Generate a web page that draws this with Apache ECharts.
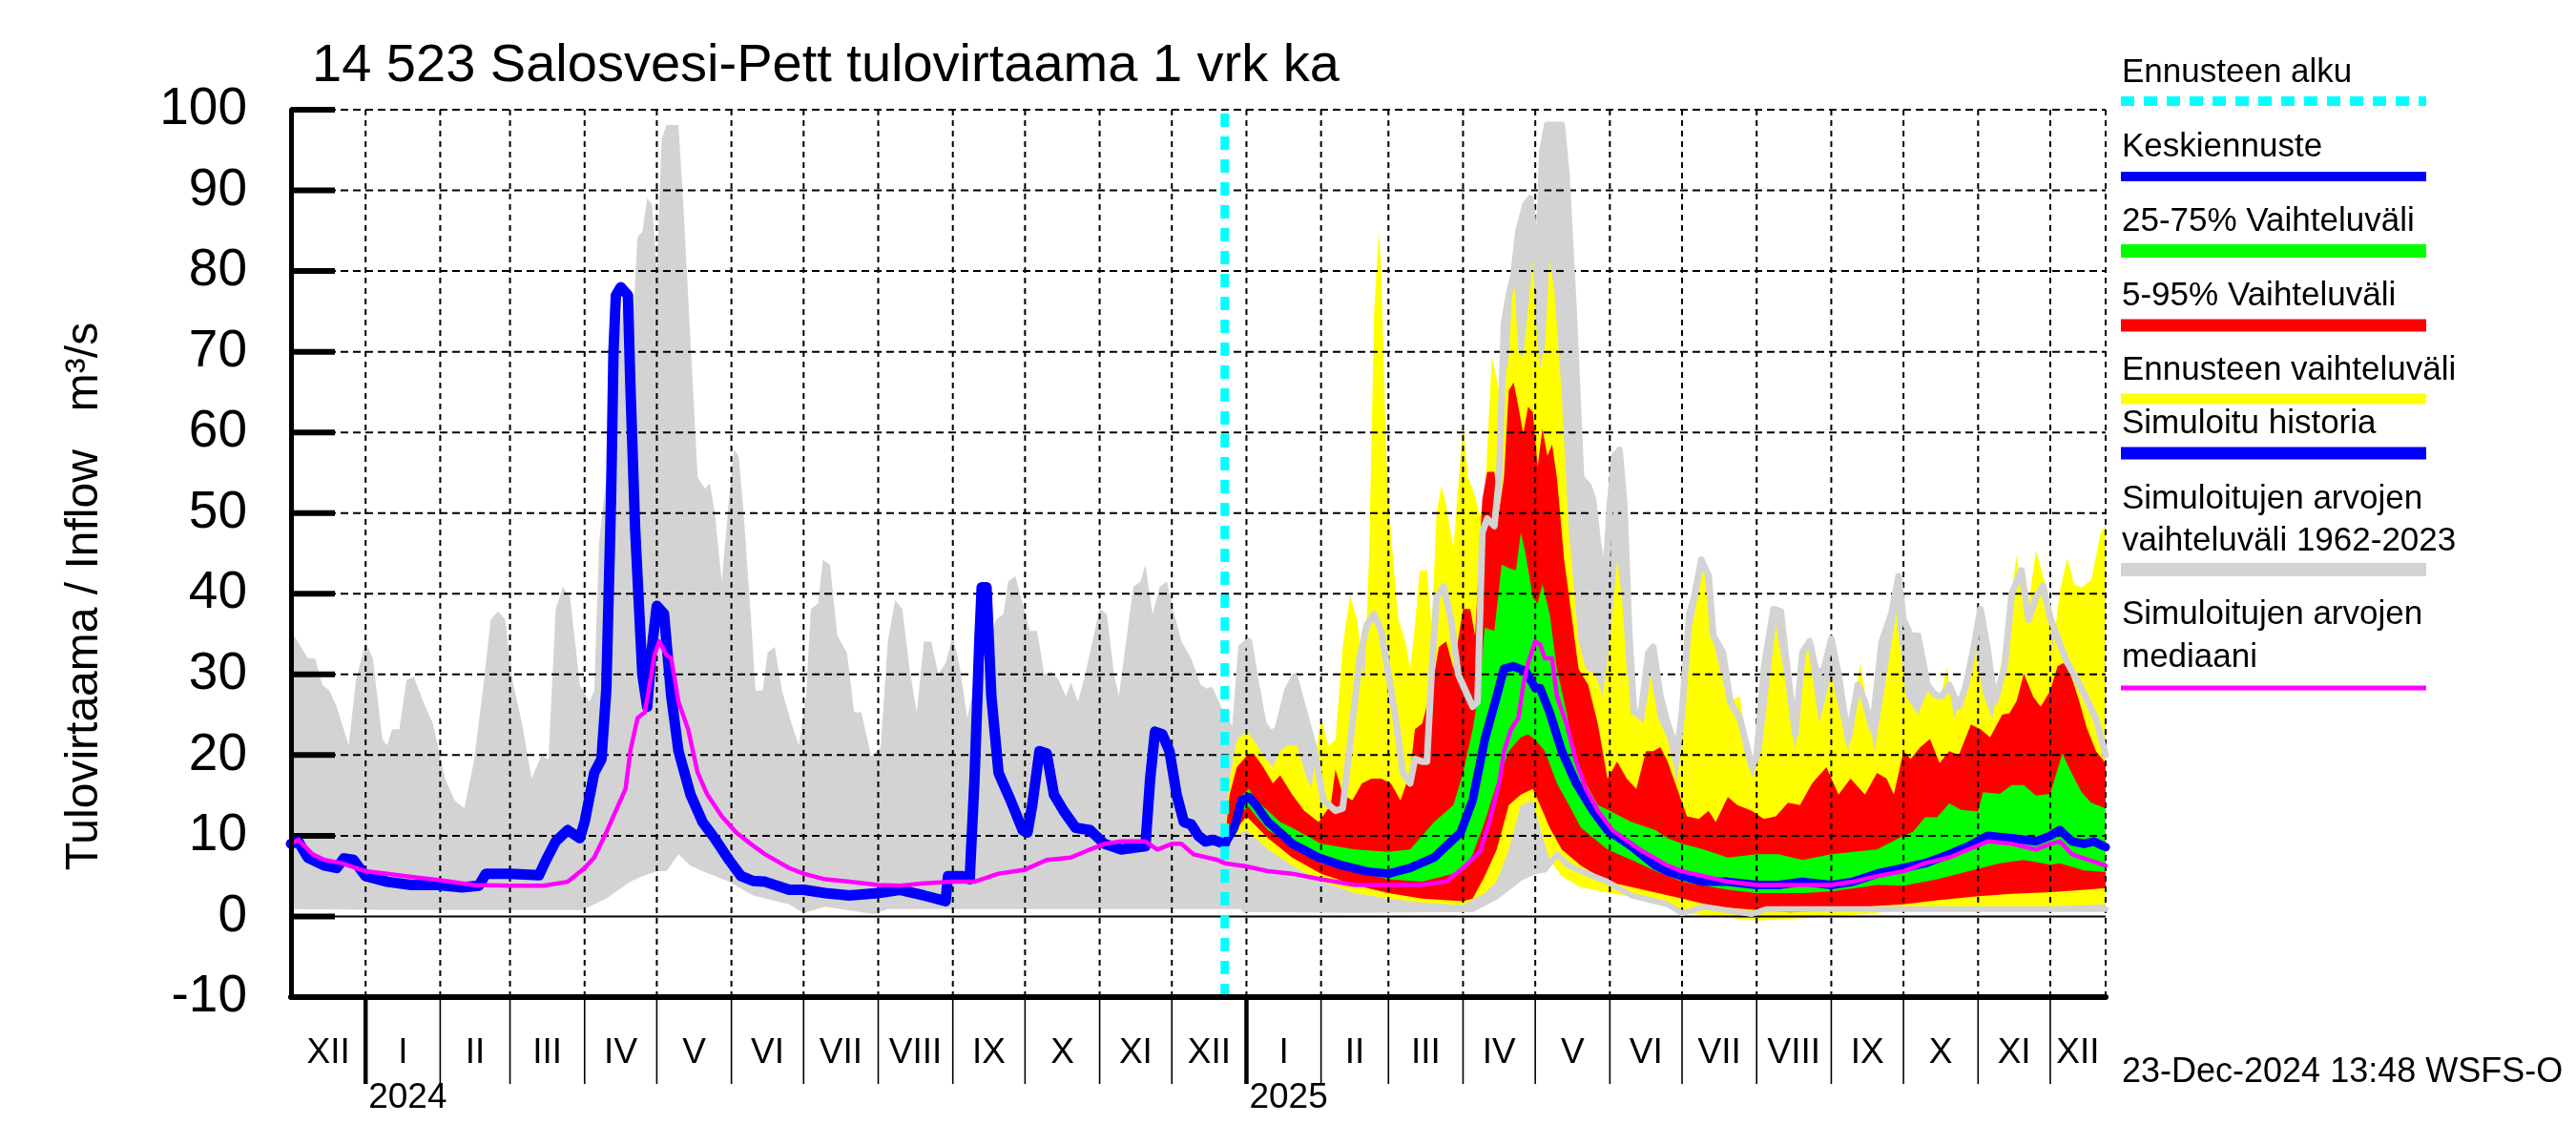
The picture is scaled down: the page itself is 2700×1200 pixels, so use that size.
<!DOCTYPE html>
<html>
<head>
<meta charset="utf-8">
<script src="https://cdn.jsdelivr.net/npm/echarts@6/dist/echarts.min.js"></script>
<style>html,body{margin:0;padding:0;background:#fff}#c{width:2700px;height:1200px}</style>
</head>
<body>
<div id="c"></div>
<script>
// ---------------- DATA ----------------
const titleText = '14 523 Salosvesi-Pett tulovirtaama 1 vrk ka';
const yAxisTitle = 'Tulovirtaama / Inflow   m\u00b3/s';
const footerText = '23-Dec-2024 13:48 WSFS-O';
const xStart = '2023-12-01';
const xEnd = '2025-12-24';
const forecastStart = '2024-12-23';
const yTicks = [0,10,20,30,40,50,60,70,80,90,100];
const monthStarts = ['2023-12-01','2024-01-01','2024-02-01','2024-03-01','2024-04-01','2024-05-01','2024-06-01','2024-07-01','2024-08-01','2024-09-01','2024-10-01','2024-11-01','2024-12-01','2025-01-01','2025-02-01','2025-03-01','2025-04-01','2025-05-01','2025-06-01','2025-07-01','2025-08-01','2025-09-01','2025-10-01','2025-11-01','2025-12-01'];
const monthLabels = ['XII','I','II','III','IV','V','VI','VII','VIII','IX','X','XI','XII','I','II','III','IV','V','VI','VII','VIII','IX','X','XI','XII'];
const yearLabels = {'2024-01-01':'2024','2025-01-01':'2025'};

// Simulated history (blue)
const historySim = [['2023-12-01',9.0],['2023-12-04',9.3],['2023-12-08',7.3],['2023-12-15',6.3],['2023-12-20',6.0],['2023-12-23',7.2],['2023-12-27',7.0],['2024-01-01',5.0],['2024-01-10',4.3],['2024-01-20',3.9],['2024-01-31',3.9],['2024-02-10',3.6],['2024-02-17',3.8],['2024-02-20',5.3],['2024-03-01',5.3],['2024-03-13',5.1],['2024-03-16',7.0],['2024-03-20',9.3],['2024-03-25',10.7],['2024-03-30',9.7],['2024-04-01',11.7],['2024-04-05',17.8],['2024-04-08',19.5],['2024-04-10',28],['2024-04-12',52],['2024-04-13',70],['2024-04-14',77],['2024-04-16',78],['2024-04-19',77],['2024-04-20',66],['2024-04-22',48],['2024-04-25',30],['2024-04-27',26],['2024-04-29',33.4],['2024-05-01',38.5],['2024-05-04',37.5],['2024-05-07',27.3],['2024-05-10',20.5],['2024-05-15',15.1],['2024-05-20',11.7],['2024-05-25',9.7],['2024-05-31',7],['2024-06-05',5.0],['2024-06-10',4.4],['2024-06-15',4.3],['2024-06-25',3.3],['2024-07-01',3.3],['2024-07-10',2.9],['2024-07-20',2.6],['2024-08-01',2.9],['2024-08-10',3.3],['2024-08-20',2.6],['2024-08-29',1.9],['2024-08-30',5.0],['2024-09-05',5.0],['2024-09-08',4.6],['2024-09-10',17],['2024-09-12',34],['2024-09-13',40.8],['2024-09-15',40.8],['2024-09-17',27.3],['2024-09-20',17.8],['2024-09-25',14.4],['2024-09-30',10.7],['2024-10-02',10.4],['2024-10-04',13.8],['2024-10-07',20.5],['2024-10-10',20.2],['2024-10-13',15.1],['2024-10-17',13.1],['2024-10-22',11],['2024-10-28',10.7],['2024-11-03',9],['2024-11-10',8.3],['2024-11-20',8.7],['2024-11-22',17.1],['2024-11-24',22.9],['2024-11-27',22.6],['2024-11-30',20.5],['2024-12-03',15.1],['2024-12-06',11.7],['2024-12-09',11.4],['2024-12-12',10],['2024-12-15',9.3],['2024-12-18',9.5],['2024-12-23',9.0]];

// Forecast mean (blue)
const forecastMean = [['2024-12-23',9.0],['2024-12-27',11],['2024-12-30',14.4],['2025-01-02',14.8],['2025-01-05',13.8],['2025-01-10',11.7],['2025-01-15',10.4],['2025-01-20',9],['2025-01-31',7.3],['2025-02-10',6.3],['2025-02-20',5.6],['2025-03-01',5.3],['2025-03-10',6],['2025-03-20',7.3],['2025-03-31',10.4],['2025-04-05',14.4],['2025-04-10',21.9],['2025-04-15',27.3],['2025-04-18',30.7],['2025-04-22',31],['2025-04-27',30.4],['2025-05-01',28.3],['2025-05-03',28.3],['2025-05-07',25.3],['2025-05-12',20.5],['2025-05-18',16.5],['2025-05-25',13.1],['2025-05-31',10.7],['2025-06-10',8.7],['2025-06-20',6.3],['2025-06-25',5.6],['2025-07-01',5.0],['2025-07-10',4.3],['2025-07-20',4.3],['2025-08-01',3.9],['2025-08-10',3.9],['2025-08-20',4.3],['2025-09-01',3.9],['2025-09-10',4.3],['2025-09-20',5.3],['2025-10-01',6],['2025-10-10',6.6],['2025-10-20',7.7],['2025-10-28',8.7],['2025-11-05',10],['2025-11-15',9.7],['2025-11-25',9.3],['2025-12-01',10],['2025-12-05',10.7],['2025-12-10',9.3],['2025-12-15',9],['2025-12-19',9.3],['2025-12-24',8.6]];

// Median of simulated values (magenta)
const medianSim = [['2023-12-01',9.0],['2023-12-04',9.5],['2023-12-10',7.7],['2023-12-15',7.0],['2023-12-22',6.6],['2024-01-01',5.6],['2024-01-10',5.3],['2024-01-20',4.9],['2024-02-01',4.5],['2024-02-15',3.9],['2024-03-01',3.8],['2024-03-15',3.8],['2024-03-25',4.3],['2024-04-01',6],['2024-04-05',7.3],['2024-04-10',10.4],['2024-04-15',13.8],['2024-04-18',15.8],['2024-04-20',20.5],['2024-04-23',24.6],['2024-04-26',25.3],['2024-04-28',28.7],['2024-04-30',32.4],['2024-05-02',34.1],['2024-05-05',32.4],['2024-05-07',32],['2024-05-10',26.6],['2024-05-14',23.2],['2024-05-18',17.8],['2024-05-22',15.1],['2024-05-28',12.4],['2024-06-03',10.4],['2024-06-09',9],['2024-06-15',7.7],['2024-06-25',6],['2024-07-01',5.3],['2024-07-10',4.6],['2024-07-20',4.3],['2024-08-01',3.9],['2024-08-10',3.8],['2024-08-20',4.1],['2024-09-01',4.3],['2024-09-10',4.3],['2024-09-20',5.3],['2024-10-01',5.8],['2024-10-10',7],['2024-10-20',7.3],['2024-10-28',8.3],['2024-11-03',9],['2024-11-10',9.3],['2024-11-20',9.3],['2024-11-25',8.3],['2024-12-01',9],['2024-12-05',9],['2024-12-10',7.7],['2024-12-20',7],['2024-12-23',6.6],['2025-01-01',6.2],['2025-01-10',5.6],['2025-01-20',5.3],['2025-02-01',4.6],['2025-02-15',3.9],['2025-03-01',3.9],['2025-03-15',3.9],['2025-03-25',4.3],['2025-04-01',6],['2025-04-08',8],['2025-04-12',11.7],['2025-04-16',16.5],['2025-04-18',20.5],['2025-04-21',23.2],['2025-04-24',24.6],['2025-04-26',28.7],['2025-04-28',31.4],['2025-05-01',34.1],['2025-05-03',33.7],['2025-05-05',32],['2025-05-08',32],['2025-05-10',27.3],['2025-05-14',23.9],['2025-05-18',19.2],['2025-05-22',15.8],['2025-05-27',13.1],['2025-06-02',10.7],['2025-06-10',9],['2025-06-15',8],['2025-06-25',6.3],['2025-07-01',5.6],['2025-07-10',5],['2025-07-20',4.3],['2025-08-01',3.9],['2025-08-20',3.9],['2025-09-01',3.9],['2025-09-10',4.3],['2025-09-20',5],['2025-10-01',5.6],['2025-10-10',6.6],['2025-10-20',7.3],['2025-10-28',8.3],['2025-11-05',9.3],['2025-11-15',9],['2025-11-25',8.3],['2025-12-01',9],['2025-12-05',9.3],['2025-12-10',7.7],['2025-12-19',6.8],['2025-12-24',6.3]];

// Range of simulated values 1962-2023 (grey)
const simRangeMax = [['2023-12-01',35.4],['2023-12-04',34],['2023-12-08',32],['2023-12-11',32],['2023-12-14',28.7],['2023-12-17',28],['2023-12-20',26],['2023-12-25',21.2],['2023-12-28',29.3],['2024-01-01',34],['2024-01-04',32],['2024-01-08',21.9],['2024-01-10',21.2],['2024-01-12',23.2],['2024-01-15',23.2],['2024-01-18',29.3],['2024-01-21',29.7],['2024-01-25',26.6],['2024-01-29',23.9],['2024-02-03',17.1],['2024-02-07',14.4],['2024-02-11',13.4],['2024-02-15',19.2],['2024-02-19',28.7],['2024-02-22',36.8],['2024-02-25',37.8],['2024-02-28',36.8],['2024-03-02',29.3],['2024-03-06',23.9],['2024-03-10',17.1],['2024-03-14',19.9],['2024-03-17',19.5],['2024-03-20',38.1],['2024-03-23',40.9],['2024-03-26',39.5],['2024-03-30',28.7],['2024-04-03',26.6],['2024-04-05',28],['2024-04-07',46.3],['2024-04-10',54.4],['2024-04-13',61.2],['2024-04-15',71.3],['2024-04-17',76.1],['2024-04-19',76.8],['2024-04-21',73.4],['2024-04-23',84.2],['2024-04-25',84.9],['2024-04-27',89],['2024-04-29',88.3],['2024-05-01',80.1],['2024-05-03',96.4],['2024-05-05',98.1],['2024-05-10',98.1],['2024-05-12',88.3],['2024-05-15',71.3],['2024-05-18',54.4],['2024-05-21',53],['2024-05-23',53.7],['2024-05-25',50.3],['2024-05-28',41.5],['2024-05-31',51.7],['2024-06-02',57.8],['2024-06-04',57.1],['2024-06-06',50.3],['2024-06-09',37.5],['2024-06-11',28],['2024-06-14',28],['2024-06-16',32.7],['2024-06-19',33.4],['2024-06-22',28],['2024-06-26',23.9],['2024-06-29',21.2],['2024-07-02',27.3],['2024-07-04',38.1],['2024-07-07',38.8],['2024-07-09',44.2],['2024-07-12',43.6],['2024-07-15',34.8],['2024-07-19',32.7],['2024-07-22',25.3],['2024-07-25',25.3],['2024-07-29',19.9],['2024-08-02',20.9],['2024-08-05',34.1],['2024-08-08',39.2],['2024-08-11',38.1],['2024-08-14',30.7],['2024-08-17',25.3],['2024-08-20',34.1],['2024-08-23',34.1],['2024-08-26',30],['2024-08-29',31.4],['2024-09-01',34.8],['2024-09-04',30.7],['2024-09-07',24.6],['2024-09-10',28.7],['2024-09-13',29],['2024-09-16',34.1],['2024-09-19',36.8],['2024-09-22',37.5],['2024-09-24',41.5],['2024-09-27',42.2],['2024-09-30',38.8],['2024-10-03',35.4],['2024-10-06',35.4],['2024-10-09',30],['2024-10-12',30.4],['2024-10-15',29.3],['2024-10-18',27.3],['2024-10-20',29],['2024-10-23',26.6],['2024-10-26',30],['2024-10-29',34.1],['2024-11-01',38.1],['2024-11-04',37.5],['2024-11-07',30],['2024-11-09',27.3],['2024-11-12',34.1],['2024-11-15',40.9],['2024-11-18',41.5],['2024-11-20',43.6],['2024-11-23',37.5],['2024-11-26',40.9],['2024-11-29',41.5],['2024-12-02',37.5],['2024-12-05',34.1],['2024-12-09',32],['2024-12-13',28.7],['2024-12-17',28],['2024-12-21',25.3],['2024-12-24',23.9],['2024-12-27',21.9],['2024-12-30',33.4],['2025-01-02',34.1],['2025-01-05',28.7],['2025-01-08',23.9],['2025-01-11',22.6],['2025-01-14',23.2],['2025-01-18',28],['2025-01-21',29.7],['2025-01-25',25.3],['2025-01-29',21],['2025-02-02',14.4],['2025-02-07',13.1],['2025-02-10',13.4],['2025-02-14',23.9],['2025-02-17',32],['2025-02-20',36.1],['2025-02-23',37.5],['2025-02-26',35.4],['2025-03-01',30],['2025-03-04',24.6],['2025-03-07',17.8],['2025-03-10',16.5],['2025-03-12',19.5],['2025-03-15',19.2],['2025-03-17',19.2],['2025-03-19',30.7],['2025-03-21',39.5],['2025-03-24',40.9],['2025-03-27',36.8],['2025-03-30',30],['2025-04-02',28],['2025-04-05',26],['2025-04-07',26.6],['2025-04-09',47.6],['2025-04-11',49.3],['2025-04-14',48.4],['2025-04-16',54.4],['2025-04-18',73.4],['2025-04-20',77],['2025-04-22',79.5],['2025-04-24',84.9],['2025-04-27',88.3],['2025-04-29',89],['2025-05-01',82.9],['2025-05-02',78.1],['2025-05-04',95],['2025-05-06',98.1],['2025-05-12',98.1],['2025-05-14',91.7],['2025-05-17',74.7],['2025-05-20',54.4],['2025-05-23',53.4],['2025-05-25',51.7],['2025-05-27',46.3],['2025-05-30',40.9],['2025-06-01',51],['2025-06-03',57.1],['2025-06-05',57.8],['2025-06-07',51],['2025-06-09',35.4],['2025-06-11',25.3],['2025-06-14',25.3],['2025-06-17',32.7],['2025-06-19',33.4],['2025-06-22',27.3],['2025-06-25',23.9],['2025-06-29',20.5],['2025-07-01',25.3],['2025-07-04',37.5],['2025-07-06',39.5],['2025-07-09',44.2],['2025-07-12',42.2],['2025-07-14',34.8],['2025-07-18',32.7],['2025-07-21',26.6],['2025-07-25',24.6],['2025-07-30',18.5],['2025-08-01',19.9],['2025-08-04',30.7],['2025-08-08',38.1],['2025-08-11',37.8],['2025-08-14',30],['2025-08-17',22.6],['2025-08-20',32.7],['2025-08-23',34.1],['2025-08-26',30],['2025-08-29',30.7],['2025-09-01',34.4],['2025-09-04',30],['2025-09-08',21.9],['2025-09-12',28.7],['2025-09-15',26.6],['2025-09-18',23.2],['2025-09-22',34.1],['2025-09-26',37.5],['2025-09-29',42.2],['2025-10-01',36.8],['2025-10-04',34.8],['2025-10-07',34.8],['2025-10-11',28.7],['2025-10-14',27.5],['2025-10-17',27.3],['2025-10-20',28.7],['2025-10-24',26],['2025-10-27',28.7],['2025-10-30',33],['2025-11-02',38.1],['2025-11-05',33],['2025-11-08',26.6],['2025-11-12',31],['2025-11-15',40],['2025-11-19',42.9],['2025-11-22',36.8],['2025-11-25',39.5],['2025-11-28',41],['2025-12-01',37],['2025-12-05',33.7],['2025-12-08',31.5],['2025-12-12',29.4],['2025-12-16',27],['2025-12-20',24.5],['2025-12-24',20]];
const simRangeMin = [['2023-12-01',0.9],['2024-01-15',0.8],['2024-03-31',0.8],['2024-04-10',2.2],['2024-04-20',4.3],['2024-04-25',5],['2024-05-01',5.6],['2024-05-05',5.6],['2024-05-10',7.7],['2024-05-15',6.3],['2024-05-20',5.6],['2024-05-31',4.3],['2024-06-10',2.6],['2024-06-25',1.5],['2024-07-01',0.4],['2024-07-10',1.2],['2024-07-30',0.3],['2024-08-05',0.9],['2024-10-01',0.9],['2024-12-31',0.9],['2025-02-15',0.8],['2025-04-05',0.9],['2025-04-15',2.5],['2025-04-25',4.8],['2025-05-01',5.6],['2025-05-05',5.8],['2025-05-10',7.7],['2025-05-15',6.3],['2025-05-20',5.6],['2025-05-31',4.3],['2025-06-10',2.6],['2025-06-25',1.5],['2025-07-01',0.4],['2025-07-10',1.2],['2025-07-30',0.3],['2025-08-05',0.9],['2025-10-01',0.9],['2025-12-24',0.9]];

// Forecast range (yellow)
const fcMax = [['2024-12-23',9.5],['2024-12-25',17.1],['2024-12-28',21.9],['2025-01-01',22.9],['2025-01-04',21.9],['2025-01-08',19.9],['2025-01-12',18.5],['2025-01-15',20.5],['2025-01-18',21.2],['2025-01-22',21.2],['2025-01-26',17.1],['2025-01-28',16],['2025-02-01',24.6],['2025-02-04',21.2],['2025-02-07',21.9],['2025-02-10',33.4],['2025-02-13',39.8],['2025-02-16',36.8],['2025-02-19',29],['2025-02-21',45],['2025-02-23',74.7],['2025-02-25',84.9],['2025-02-26',80.1],['2025-02-28',57.8],['2025-03-02',47.6],['2025-03-05',37],['2025-03-08',34.1],['2025-03-10',30.7],['2025-03-12',36],['2025-03-14',42.9],['2025-03-17',42.9],['2025-03-19',36],['2025-03-21',50],['2025-03-23',53.4],['2025-03-25',51],['2025-03-28',45.6],['2025-04-01',61.2],['2025-04-03',54.4],['2025-04-05',53],['2025-04-08',49.7],['2025-04-10',51.7],['2025-04-13',69.3],['2025-04-15',66.6],['2025-04-17',63.9],['2025-04-20',69.3],['2025-04-22',80.1],['2025-04-24',70],['2025-04-26',69.3],['2025-04-29',78.1],['2025-04-30',81.5],['2025-05-01',74.7],['2025-05-03',68],['2025-05-05',70.7],['2025-05-07',81.5],['2025-05-09',77.4],['2025-05-12',64.6],['2025-05-15',47.6],['2025-05-17',40.9],['2025-05-19',34.1],['2025-05-22',30.7],['2025-05-26',30],['2025-05-29',27.3],['2025-06-01',34.1],['2025-06-04',44.2],['2025-06-06',39.5],['2025-06-08',30.7],['2025-06-11',25],['2025-06-15',23.9],['2025-06-18',30],['2025-06-21',24.6],['2025-06-25',22],['2025-06-29',16.5],['2025-07-04',34.1],['2025-07-10',43.6],['2025-07-14',34.1],['2025-07-20',26.6],['2025-07-25',27.3],['2025-07-30',17.1],['2025-08-03',20.5],['2025-08-09',36.1],['2025-08-14',27.3],['2025-08-17',20.5],['2025-08-22',34.1],['2025-08-27',23.9],['2025-09-01',30],['2025-09-08',20.5],['2025-09-13',31.4],['2025-09-19',20.5],['2025-09-28',37.5],['2025-10-02',27.3],['2025-10-07',25],['2025-10-12',28.6],['2025-10-16',26.7],['2025-10-19',30.8],['2025-10-22',24.5],['2025-10-26',28.1],['2025-10-30',34.9],['2025-11-03',27.6],['2025-11-07',24.5],['2025-11-10',30.4],['2025-11-14',37.6],['2025-11-17',44.8],['2025-11-21',36.7],['2025-11-25',45.3],['2025-11-29',41.2],['2025-12-02',33.1],['2025-12-05',40.3],['2025-12-08',44.4],['2025-12-11',41.2],['2025-12-14',40.8],['2025-12-18',41.7],['2025-12-22',47.6],['2025-12-24',48.5]];
const fcMin = [['2024-12-23',9],['2024-12-27',10],['2025-01-01',10.7],['2025-01-10',8.3],['2025-01-20',6.3],['2025-02-01',4.3],['2025-02-15',2.9],['2025-03-01',2.2],['2025-03-15',1.7],['2025-04-01',1.4],['2025-04-10',2.9],['2025-04-15',4.3],['2025-04-20',8.3],['2025-04-25',13.8],['2025-04-30',14.4],['2025-05-03',11],['2025-05-07',7],['2025-05-12',5],['2025-05-20',3.6],['2025-06-01',2.9],['2025-06-15',2.2],['2025-07-01',0.5],['2025-07-15',0],['2025-08-01',-0.5],['2025-08-15',-0.3],['2025-09-01',0],['2025-09-15',0.3],['2025-10-01',0.8],['2025-11-01',1],['2025-12-01',1.2],['2025-12-24',1.5]];

// 5-95 % (red)
const p95 = [['2024-12-23',9.3],['2024-12-25',15.1],['2024-12-28',18.5],['2025-01-01',19.9],['2025-01-04',20.2],['2025-01-08',18.5],['2025-01-12',16.5],['2025-01-15',17.5],['2025-01-20',15.1],['2025-01-25',13.1],['2025-01-31',11.7],['2025-02-05',13.8],['2025-02-07',18.2],['2025-02-10',15.1],['2025-02-14',14.4],['2025-02-18',16.5],['2025-02-22',17.1],['2025-02-26',17.1],['2025-03-02',16.5],['2025-03-06',14.4],['2025-03-10',17.8],['2025-03-12',23.2],['2025-03-15',23.9],['2025-03-18',27.3],['2025-03-20',30],['2025-03-22',33.4],['2025-03-25',34.1],['2025-03-28',30.7],['2025-04-01',38.1],['2025-04-04',38.1],['2025-04-06',34.8],['2025-04-09',51.7],['2025-04-11',55.1],['2025-04-14',55.1],['2025-04-16',50.3],['2025-04-18',54.4],['2025-04-20',65.2],['2025-04-22',66.2],['2025-04-24',63.2],['2025-04-26',59.8],['2025-04-28',63.2],['2025-04-30',62.5],['2025-05-02',55.8],['2025-05-04',60.5],['2025-05-06',57.1],['2025-05-08',58.5],['2025-05-10',54.4],['2025-05-13',44.2],['2025-05-16',37.5],['2025-05-19',30.7],['2025-05-23',28.7],['2025-05-27',23.9],['2025-05-31',17.1],['2025-06-04',19.2],['2025-06-08',17.1],['2025-06-12',15.8],['2025-06-16',20.5],['2025-06-19',20.5],['2025-06-22',21],['2025-06-25',19.2],['2025-06-29',15.8],['2025-07-03',12.4],['2025-07-08',12.1],['2025-07-12',13.1],['2025-07-15',11.7],['2025-07-20',14.8],['2025-07-24',13.8],['2025-07-30',13.1],['2025-08-04',12.1],['2025-08-09',12.4],['2025-08-14',14.1],['2025-08-19',13.8],['2025-08-24',16.5],['2025-08-30',18.5],['2025-09-04',15.1],['2025-09-09',17.1],['2025-09-15',15.1],['2025-09-20',17.8],['2025-09-24',17.1],['2025-09-27',15.1],['2025-10-01',20.5],['2025-10-04',19.5],['2025-10-08',21],['2025-10-12',22],['2025-10-16',19],['2025-10-20',20.5],['2025-10-24',20],['2025-10-29',23.8],['2025-11-02',23.2],['2025-11-06',22.2],['2025-11-11',25],['2025-11-14',25.2],['2025-11-17',26.7],['2025-11-20',30.1],['2025-11-24',27.2],['2025-11-27',26],['2025-12-01',28],['2025-12-04',31],['2025-12-07',31.5],['2025-12-10',29.5],['2025-12-13',26.7],['2025-12-16',23.5],['2025-12-20',20.5],['2025-12-24',19]];
const p5 = [['2024-12-23',9],['2024-12-27',10.5],['2025-01-01',12.4],['2025-01-05',11.2],['2025-01-10',9.7],['2025-01-20',7.3],['2025-02-01',5.3],['2025-02-15',3.9],['2025-03-01',2.9],['2025-03-15',2.2],['2025-04-01',1.9],['2025-04-05',2.2],['2025-04-10',5],['2025-04-15',8.3],['2025-04-20',13.8],['2025-04-25',15.1],['2025-04-30',15.8],['2025-05-03',13.8],['2025-05-07',11],['2025-05-12',8.3],['2025-05-20',6.3],['2025-05-31',4.3],['2025-06-15',3.3],['2025-07-01',2.2],['2025-07-15',1.2],['2025-08-01',0.8],['2025-08-15',0.5],['2025-09-01',0.8],['2025-09-15',1.2],['2025-10-01',1.5],['2025-10-15',2],['2025-11-01',2.5],['2025-11-15',2.8],['2025-12-01',3],['2025-12-10',3.2],['2025-12-24',3.5]];

// 25-75 % (green)
const p75 = [['2024-12-23',9.2],['2024-12-27',12],['2024-12-30',15],['2025-01-02',15.8],['2025-01-05',14.4],['2025-01-10',13.1],['2025-01-15',11.7],['2025-01-20',11],['2025-02-01',9],['2025-02-15',8.3],['2025-03-01',8],['2025-03-10',8.3],['2025-03-20',11.7],['2025-03-28',13.8],['2025-04-01',17.8],['2025-04-05',23.2],['2025-04-08',28.7],['2025-04-10',35.8],['2025-04-14',35.4],['2025-04-17',43.6],['2025-04-20',43.2],['2025-04-23',42.9],['2025-04-25',47.6],['2025-04-27',44.9],['2025-04-30',39.5],['2025-05-02',38.8],['2025-05-04',41.2],['2025-05-07',37.5],['2025-05-10',30.7],['2025-05-14',25.3],['2025-05-18',19.2],['2025-05-22',16.5],['2025-05-27',13.8],['2025-06-01',13.1],['2025-06-10',11.7],['2025-06-20',10.7],['2025-06-25',9.7],['2025-07-01',9],['2025-07-10',8.3],['2025-07-20',7.3],['2025-08-01',7.7],['2025-08-10',7.7],['2025-08-20',7],['2025-09-01',7.7],['2025-09-10',8],['2025-09-20',8.3],['2025-10-01',10],['2025-10-05',10.5],['2025-10-10',12.3],['2025-10-15',12.3],['2025-10-20',14],['2025-10-25',13.2],['2025-11-01',13],['2025-11-03',15.4],['2025-11-10',15.2],['2025-11-15',16.3],['2025-11-20',16.3],['2025-11-25',15],['2025-12-01',15.2],['2025-12-03',17.2],['2025-12-06',20.2],['2025-12-10',17.7],['2025-12-14',15.4],['2025-12-18',14.1],['2025-12-24',13.4]];
const p25 = [['2024-12-23',9],['2024-12-27',10.5],['2024-12-30',13],['2025-01-02',13.6],['2025-01-05',12.4],['2025-01-10',10.7],['2025-01-20',9],['2025-02-01',6.6],['2025-02-15',5.6],['2025-03-01',4.6],['2025-03-15',4.3],['2025-04-01',5.6],['2025-04-05',7.7],['2025-04-10',11.7],['2025-04-15',16.5],['2025-04-20',20.5],['2025-04-25',22.2],['2025-04-28',22.6],['2025-05-01',21.9],['2025-05-05',20.5],['2025-05-10',16.5],['2025-05-15',13.8],['2025-05-20',11],['2025-05-31',8.3],['2025-06-10',7],['2025-06-20',5.6],['2025-07-01',4.3],['2025-07-20',3.3],['2025-08-01',2.9],['2025-08-20',2.9],['2025-09-01',3.1],['2025-09-20',3.9],['2025-10-01',3.8],['2025-10-15',4.6],['2025-11-01',5.9],['2025-11-10',6.6],['2025-11-20',7],['2025-12-01',6.4],['2025-12-05',6.6],['2025-12-15',5.7],['2025-12-24',5.5]];

// Legend entries
const legendItems = [
  {lines:['Ennusteen alku'], color:'#00ffff', dashed:true, textY:[76], barY:106, barH:10},
  {lines:['Keskiennuste'], color:'#0000ff', textY:[154], barY:185, barH:10},
  {lines:['25-75% Vaihteluväli'], color:'#00ff00', textY:[232], barY:263, barH:14},
  {lines:['5-95% Vaihteluväli'], color:'#ff0000', textY:[310], barY:341, barH:13},
  {lines:['Ennusteen vaihteluväli'], color:'#ffff00', textY:[388], barY:418, barH:11},
  {lines:['Simuloitu historia'], color:'#0000ff', textY:[444], barY:475, barH:13},
  {lines:['Simuloitujen arvojen','vaihteluväli 1962-2023'], color:'#d3d3d3', textY:[523,567], barY:597, barH:14},
  {lines:['Simuloitujen arvojen','mediaani'], color:'#ff00ff', textY:[644,689], barY:721, barH:5}
];

// ---------------- CHART ----------------
const FONT = '"Liberation Sans", Arial, Helvetica, sans-serif';
const T = s => { const a = s.split('-').map(Number); return new Date(a[0], a[1]-1, a[2]).getTime(); };
const pts = arr => arr.map(p => [T(p[0]), p[1]]);
const xMin = T(xStart), xMax = T(xEnd), fStart = T(forecastStart);

function bandSeries(name, upper, lower, color, z) {
  return {
    type: 'custom', name, z, clip: true, silent: true,
    data: [[T('2024-06-01'), 0]],
    renderItem: (params, api) => {
      const p = upper.map(d => api.coord([T(d[0]), d[1]]));
      for (let i = lower.length - 1; i >= 0; i--) p.push(api.coord([T(lower[i][0]), lower[i][1]]));
      return { type: 'polygon', shape: { points: p }, style: { fill: color } };
    }
  };
}
function lineSeries(name, data, color, width, z) {
  return { type: 'line', name, z, data: pts(data), showSymbol: false, symbol: 'none', silent: true,
    lineStyle: { color, width, join: 'round', cap: 'round' } };
}

const monthGrid = {
  type: 'custom', name: 'months', z: 5, clip: false, silent: true,
  data: monthStarts.map((d, i) => [T(d), i]),
  renderItem: (params, api) => {
    const i = params.dataIndex;
    const x0 = api.coord([T(monthStarts[i]), 0])[0];
    const x1 = i + 1 < monthStarts.length ? api.coord([T(monthStarts[i + 1]), 0])[0] : api.coord([xMax, 0])[0];
    const yTop = api.coord([xMin, 100])[1];
    const yBot = api.coord([xMin, -10])[1];
    const isJan = !!yearLabels[monthStarts[i]];
    const ch = [];
    if (i > 0) {
      ch.push({ type: 'line', shape: { x1: x0, y1: yTop, x2: x0, y2: yBot }, style: { stroke: '#000', lineWidth: 2, lineDash: [6, 5] } });
      ch.push({ type: 'line', shape: { x1: x0, y1: yBot, x2: x0, y2: yBot + 91 }, style: { stroke: '#000', lineWidth: isJan ? 4.5 : 1.6 } });
    }
    if (i === monthStarts.length - 1) {
      ch.push({ type: 'line', shape: { x1: x1, y1: yTop, x2: x1, y2: yBot }, style: { stroke: '#000', lineWidth: 2, lineDash: [6, 5] } });
    }
    ch.push({ type: 'text', style: { text: monthLabels[i], x: (x0 + x1) / 2, y: yBot + 59, align: 'center', verticalAlign: 'middle', fontSize: 37, fontFamily: FONT, fill: '#000' } });
    if (isJan) ch.push({ type: 'text', style: { text: yearLabels[monthStarts[i]], x: x0 + 3, y: yBot + 106, align: 'left', verticalAlign: 'middle', fontSize: 37, fontFamily: FONT, fill: '#000' } });
    return { type: 'group', children: ch };
  }
};

const valueGrid = {
  type: 'custom', name: 'values', z: 5, clip: false, silent: true,
  data: yTicks.map(v => [xMin, v]),
  renderItem: (params, api) => {
    const v = yTicks[params.dataIndex];
    const pL = api.coord([xMin, v]), pR = api.coord([xMax, v]);
    const ch = [];
    if (v === 0) ch.push({ type: 'line', shape: { x1: pL[0], y1: pL[1], x2: pR[0], y2: pR[1] }, style: { stroke: '#000', lineWidth: 2 } });
    else ch.push({ type: 'line', shape: { x1: pL[0], y1: pL[1], x2: pR[0], y2: pR[1] }, style: { stroke: '#000', lineWidth: 2, lineDash: [8, 5] } });
    ch.push({ type: 'line', shape: { x1: pL[0], y1: pL[1], x2: pL[0] + 46, y2: pL[1] }, style: { stroke: '#000', lineWidth: 6 } });
    return { type: 'group', children: ch };
  }
};

const graphics = [];
graphics.push({ type: 'text', x: 327, y: 70, style: { text: titleText, fontSize: 56, fontFamily: FONT, fill: '#000', align: 'left', verticalAlign: 'middle' } });
graphics.push({ type: 'text', x: 89, y: 625, rotation: Math.PI / 2, style: { text: yAxisTitle, fontSize: 48, fontFamily: FONT, fill: '#000', align: 'center', verticalAlign: 'middle' } });
graphics.push({ type: 'text', x: 2224, y: 1124, style: { text: footerText, fontSize: 36, fontFamily: FONT, fill: '#000', align: 'left', verticalAlign: 'middle' } });
legendItems.forEach(it => {
  it.lines.forEach((t, k) => graphics.push({ type: 'text', x: 2224, y: it.textY[k], style: { text: t, fontSize: 35, fontFamily: FONT, fill: '#000', align: 'left', verticalAlign: 'middle' } }));
  if (it.dashed) graphics.push({ type: 'line', shape: { x1: 2223, y1: it.barY, x2: 2543, y2: it.barY }, style: { stroke: it.color, lineWidth: it.barH, lineDash: [14, 10] } });
  else graphics.push({ type: 'rect', shape: { x: 2223, y: it.barY - it.barH / 2, width: 320, height: it.barH }, style: { fill: it.color } });
});

const grayLineMax = simRangeMax.filter(d => T(d[0]) >= T('2024-12-17'));
const grayLineMin = simRangeMin.filter(d => T(d[0]) >= T('2024-12-01'));

const option = {
  animation: false,
  backgroundColor: '#fff',
  grid: { left: 305, right: 493, top: 115, bottom: 155, containLabel: false },
  xAxis: { type: 'time', min: xMin, max: xMax, z: 10,
    axisLine: { show: true, onZero: false, lineStyle: { color: '#000', width: 6 } },
    axisTick: { show: false }, axisLabel: { show: false }, splitLine: { show: false } },
  yAxis: { type: 'value', min: -10, max: 100, interval: 10, z: 10,
    axisLine: { show: true, lineStyle: { color: '#000', width: 5 } },
    axisTick: { show: false }, splitLine: { show: false },
    axisLabel: { fontSize: 55, color: '#000', fontFamily: FONT, margin: 46 } },
  graphic: graphics,
  series: [
    bandSeries('Simuloitujen arvojen vaihteluväli 1962-2023', simRangeMax, simRangeMin, '#d3d3d3', 1),
    bandSeries('Ennusteen vaihteluväli', fcMax, fcMin, '#ffff00', 2),
    bandSeries('5-95% Vaihteluväli', p95, p5, '#ff0000', 3),
    bandSeries('25-75% Vaihteluväli', p75, p25, '#00ff00', 4),
    valueGrid,
    monthGrid,
    lineSeries('grayMax', grayLineMax, '#d3d3d3', 7, 6),
    lineSeries('grayMin', grayLineMin, '#d3d3d3', 6, 6),
    lineSeries('Keskiennuste', forecastMean, '#0000ff', 9, 7),
    lineSeries('Simuloitu historia', historySim, '#0000ff', 11, 7),
    lineSeries('Simuloitujen arvojen mediaani', medianSim, '#ff00ff', 4.5, 8),
    { type: 'line', name: 'Ennusteen alku', z: 9, silent: true, showSymbol: false, symbol: 'none',
      data: [[fStart, -10], [fStart, 100]],
      lineStyle: { color: '#00ffff', width: 9, type: [14, 10], cap: 'butt' } }
  ]
};
const chart = echarts.init(document.getElementById('c'), null, { renderer: 'canvas', width: 2700, height: 1200 });
chart.setOption(option);
</script>
</body>
</html>
